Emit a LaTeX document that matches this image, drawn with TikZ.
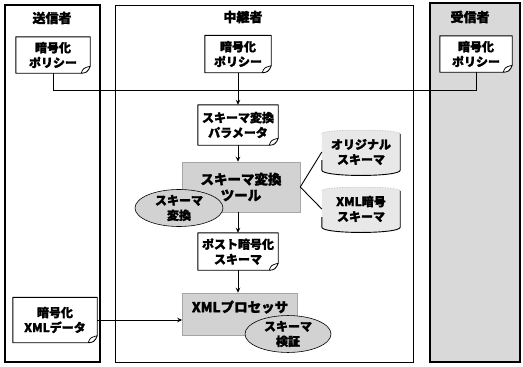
\documentclass[tikz,border=0pt]{standalone}
\usepackage{fontspec}
\setmainfont{Noto Sans CJK JP}[BoldFeatures={FakeBold=1.6}]
\usetikzlibrary{arrows.meta,shapes.geometric}
\pgfdeclarelayer{bg}
\pgfsetlayers{bg,main}
\tikzset{
  lbl/.style={font=\bfseries\fontsize{12}{15}\selectfont, align=center, inner sep=0pt},
  biglbl/.style={font=\bfseries\fontsize{13.5}{16}\selectfont, align=center, inner sep=0pt},
  ttl/.style={font=\bfseries\fontsize{13}{15}\selectfont, inner sep=0pt},
  lane/.style={draw=black, inner sep=0pt},
  docn/.style={lbl, draw=none},
  docline/.style={draw=black, line width=0.9pt, fill=white, line join=round},
  proc/.style={biglbl, draw=gray!70, fill=gray!35, line width=0.5pt},
  ell/.style={lbl, ellipse, draw=black, fill=gray!35, line width=0.6pt},
  cyln/.style={lbl, draw=none},
  ln/.style={draw=black, line width=0.9pt},
  arr/.style={ln, -{Stealth[length=5pt,width=4.5pt]}}
}
\newcommand\docfold[1]{%
  \begin{pgfonlayer}{bg}
  \path[docline] (#1.north west) -- (#1.north east) -- ([yshift=7pt]#1.south east)
     .. controls ([xshift=-2pt,yshift=1pt]#1.south east) and ([xshift=-5pt]#1.south east) .. ([xshift=-9pt]#1.south east)
     -- (#1.south west) -- cycle;
  \draw[line width=0.7pt] ([xshift=-9pt]#1.south east) .. controls ([xshift=-7pt,yshift=5pt]#1.south east) .. ([yshift=7pt]#1.south east);
  \end{pgfonlayer}}
\newcommand\cylout[1]{%
  \begin{pgfonlayer}{bg}
  \fill[gray!18] (#1.north west) -- (#1.south west) .. controls ([yshift=-7pt]#1.south west) and ([yshift=-7pt]#1.south east) .. (#1.south east) -- (#1.north east) .. controls ([yshift=5pt]#1.north east) and ([yshift=5pt]#1.north west) .. (#1.north west) -- cycle;
  \draw[gray!60, densely dotted, line width=0.6pt] (#1.north west) .. controls ([yshift=5pt]#1.north west) and ([yshift=5pt]#1.north east) .. (#1.north east);
  \draw[black, line width=0.9pt] ([yshift=10pt]#1.south west) -- (#1.south west) .. controls ([yshift=-7pt]#1.south west) and ([yshift=-7pt]#1.south east) .. (#1.south east) -- (#1.north east);
  \end{pgfonlayer}}
\begin{document}
\begin{tikzpicture}[x=1pt,y=-1pt]
\useasboundingbox (0,0) rectangle (523,367);
% lanes
\begin{pgfonlayer}{bg}
\node[lane, line width=1.6pt, minimum width=95pt, minimum height=357pt] (L1) at (52.5,183.5) {};
\node[lane, line width=0.8pt, minimum width=298pt, minimum height=357pt] (L2) at (264,183.5) {};
\node[lane, line width=1.3pt, fill=gray!30, minimum width=90pt, minimum height=359pt] (L3) at (475,182.5) {};
\end{pgfonlayer}
% titles
\node[ttl] (T1) at (52,18) {送信者};
\node[ttl] (T2) at (243,17) {中継者};
\node[ttl] (T3) at (470,17) {受信者};
% documents
\node[docn, minimum width=74pt, minimum height=36pt] (SP) at (53,55) {暗号化\\ポリシー};
\docfold{SP}
\node[docn, minimum width=66pt, minimum height=37pt] (RP) at (238,54) {暗号化\\ポリシー};
\docfold{RP}
\node[docn, minimum width=72pt, minimum height=36pt] (VP) at (476,54) {暗号化\\ポリシー};
\docfold{VP}
\node[docn, minimum width=80pt, minimum height=40pt] (PA) at (238,125) {スキーマ変換\\パラメータ};
\docfold{PA}
\node[docn, minimum width=80pt, minimum height=37pt] (PS) at (238,251.5) {ポスト暗号化\\スキーマ};
\docfold{PS}
\node[docn, minimum width=84pt, minimum height=45pt] (DA) at (55,320) {暗号化\\XMLデータ};
\docfold{DA}
% processes
\node[proc, minimum width=118pt, minimum height=50pt] (TL) at (241,187) {スキーマ変換\\ツール};
\node[ell, minimum width=88pt, minimum height=37pt] (SE) at (179,208) {スキーマ\\変換};
\node[proc, minimum width=115pt, minimum height=42pt] (XP) at (240,314) {};
\node[biglbl] (XPT) at (240,307) {XMLプロセッサ};
\node[ell, minimum width=86pt, minimum height=34pt] (SV) at (288,334) {スキーマ\\検証};
% cylinders
\node[cyln, minimum width=78pt, minimum height=36pt] (C1) at (361,152) {オリジナル\\スキーマ};
\cylout{C1}
\node[cyln, minimum width=78pt, minimum height=36pt] (C2) at (361,209) {XML暗号\\スキーマ};
\cylout{C2}
% connectors
\coordinate (J) at (0,90);
\draw[ln] (SP.south) -- (SP.south |- J) -| (VP.south);
\draw[arr] (RP.south) -- (PA.north);
\draw[arr] (PA.south) -- (PA.south |- TL.north);
\draw[arr] (PA.south |- TL.south) -- (PS.north);
\draw[arr] (PS.south) -- (PS.south |- XP.north);
\draw[arr] (DA.east) -- (DA.east -| XP.west);
\draw[ln] (TL.east) -- (C1.west);
\draw[ln] (TL.east) -- (C2.west);
\end{tikzpicture}
\end{document}
